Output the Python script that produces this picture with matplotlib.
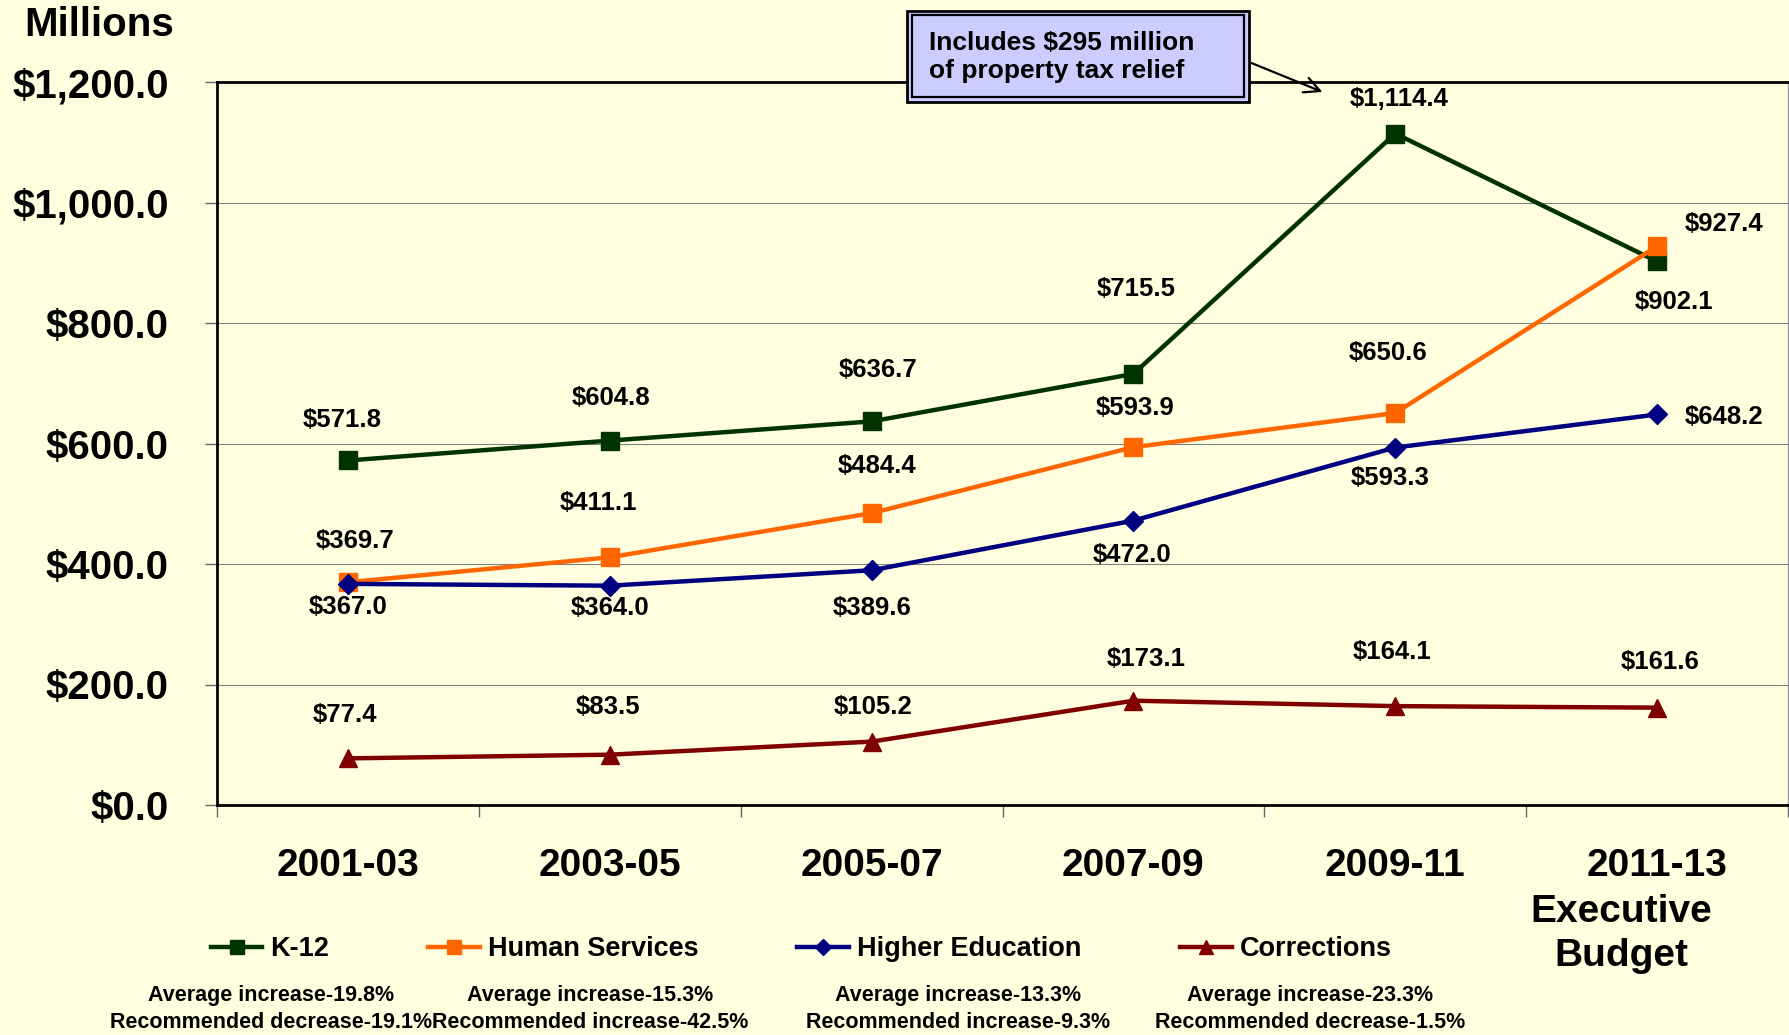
import matplotlib
matplotlib.use("Agg")
import matplotlib.pyplot as plt
import numpy as np
from matplotlib.font_manager import FontProperties
from matplotlib.lines import Line2D
from matplotlib.patches import FancyArrowPatch, Rectangle

# Biennium budgets, $ millions
periods = ["2001-03", "2003-05", "2005-07", "2007-09", "2009-11", "2011-13"]
last_period_note = "Executive\nBudget"
k12 = [571.8, 604.8, 636.7, 715.5, 1114.4, 902.1]
human_services = [369.7, 411.1, 484.4, 593.9, 650.6, 927.4]
higher_education = [367.0, 364.0, 389.6, 472.0, 593.3, 648.2]
corrections = [77.4, 83.5, 105.2, 173.1, 164.1, 161.6]
series_names = ["K-12", "Human Services", "Higher Education", "Corrections"]
avg_change = ["Average increase-19.8%", "Average increase-15.3%",
              "Average increase-13.3%", "Average increase-23.3%"]
recommended_change = ["Recommended decrease-19.1%", "Recommended increase-42.5%",
                      "Recommended increase-9.3%", "Recommended decrease-1.5%"]
y_ticks = [0, 200, 400, 600, 800, 1000, 1200]
note_text = "Includes $295 million\nof property tax relief"

BG = "#FFFFE0"
plt.rcParams["font.family"] = ["Liberation Sans", "DejaVu Sans"]
plt.rcParams["font.weight"] = "bold"
NARROW = ["Liberation Sans Narrow", "Liberation Sans", "DejaVu Sans"]

W, H = 1789, 1035


def fx(px):
    return px / W


def fy(py):
    return 1 - py / H


fig = plt.figure(figsize=(W / 100, H / 100), dpi=100, facecolor=BG)
ax = fig.add_axes([fx(217), fy(805), fx(1788) - fx(217), fy(82) - fy(805)])
ax.set_facecolor(BG)

x = np.arange(len(periods)) + 0.5
styles = [
    (k12, "#003300", "s", 12.5),
    (human_services, "#FF6600", "s", 12.5),
    (higher_education, "#000080", "D", 10),
    (corrections, "#800000", "^", 13),
]
# label offsets in points, per series
offsets = [
    [(-4, 29), (1, 31), (5, 37), (2, 61), (3, 25), (12, -29)],
    [(5, 30), (-8, 39), (4, 34), (1, 28), (-5, 43), (48, 16)],
    [(0, -17), (0, -16), (0, -27), (-1, -25), (-4, -22), (48, -2)],
    [(-2, 31), (-1, 34), (1, 25), (9, 30), (-2, 39), (2, 33)],
]

handles = []
for (vals, color, marker, ms), offs, name in zip(styles, offsets, series_names):
    ax.plot(x, vals, color=color, lw=3.2, marker=marker, ms=ms, zorder=3)
    handles.append(Line2D([], [], color=color, lw=3.2, marker=marker, ms=ms * 0.8, label=name))
    for xi, v, (dx, dy) in zip(x, vals, offs):
        ax.annotate(f"${v:,.1f}", (xi, v), xytext=(dx, dy), textcoords="offset points",
                    ha="center", va="center", fontsize=18.5, fontweight="bold", zorder=4)

ax.set_xlim(0, len(periods))
ax.set_ylim(0, 1200)
ax.set_yticks(y_ticks)
ax.set_yticklabels([f"${v:,.1f}" for v in y_ticks], fontsize=29, fontweight="bold")
ax.tick_params(axis="y", length=8.6, width=1, color="#666666", pad=26)
ax.set_xticks(np.arange(len(periods) + 1))
ax.set_xticklabels([])
ax.tick_params(axis="x", which="major", length=8.5, width=1, color="#666666")
ax.set_xticks(x, minor=True)
ax.set_xticklabels(periods, minor=True, fontsize=28, fontweight="bold")
ax.tick_params(axis="x", which="minor", length=0, pad=31)
ax.grid(axis="y", color="#808080", lw=0.8)
ax.set_axisbelow(True)
for side in ["left", "bottom", "top"]:
    ax.spines[side].set_linewidth(2)
    ax.spines[side].set_color("black")
ax.spines["right"].set_color("#999999")
ax.spines["right"].set_linewidth(1)

fig.text(fx(1621), fy(934), last_period_note, ha="center", va="center",
         fontsize=28, fontweight="bold", linespacing=1.25)
fig.text(fx(99), fy(25), "Millions", ha="center", va="center", fontsize=29, fontweight="bold")

# legend and per-series notes
fig.legend(handles=handles, loc="center left", bbox_to_anchor=(fx(211), fy(949)),
           ncol=4, frameon=False, prop=FontProperties(family=NARROW, weight="bold", size=19.5),
           handlelength=1.9, handletextpad=0.3, columnspacing=3.65, borderpad=0,
           borderaxespad=0)
for cx, a, r in zip([271, 590, 958, 1310], avg_change, recommended_change):
    fig.text(fx(cx), fy(996), a, ha="center", va="center", fontsize=15.5,
             fontweight="bold", family=NARROW)
    fig.text(fx(cx), fy(1022), r, ha="center", va="center", fontsize=15.5,
             fontweight="bold", family=NARROW)

# callout box
fig.add_artist(Rectangle((fx(907), fy(102)), fx(1249) - fx(907), fy(11) - fy(102),
                         transform=fig.transFigure, facecolor="#CCCCFF",
                         edgecolor="black", lw=2, zorder=5))
fig.add_artist(Rectangle((fx(912), fy(97)), fx(1244) - fx(912), fy(15) - fy(97),
                         transform=fig.transFigure, facecolor="#CCCCFF",
                         edgecolor="black", lw=1.6, zorder=6))
fig.text(fx(929), fy(57), note_text, ha="left", va="center", fontsize=19,
         fontweight="bold", linespacing=1.2, zorder=7)
fig.add_artist(FancyArrowPatch((fx(1249), fy(62)), (fx(1325), fy(93)),
                               transform=fig.transFigure, arrowstyle="->",
                               mutation_scale=28, lw=1.6, color="black", zorder=6))

fig.savefig("out.png", dpi=100, facecolor=BG)
